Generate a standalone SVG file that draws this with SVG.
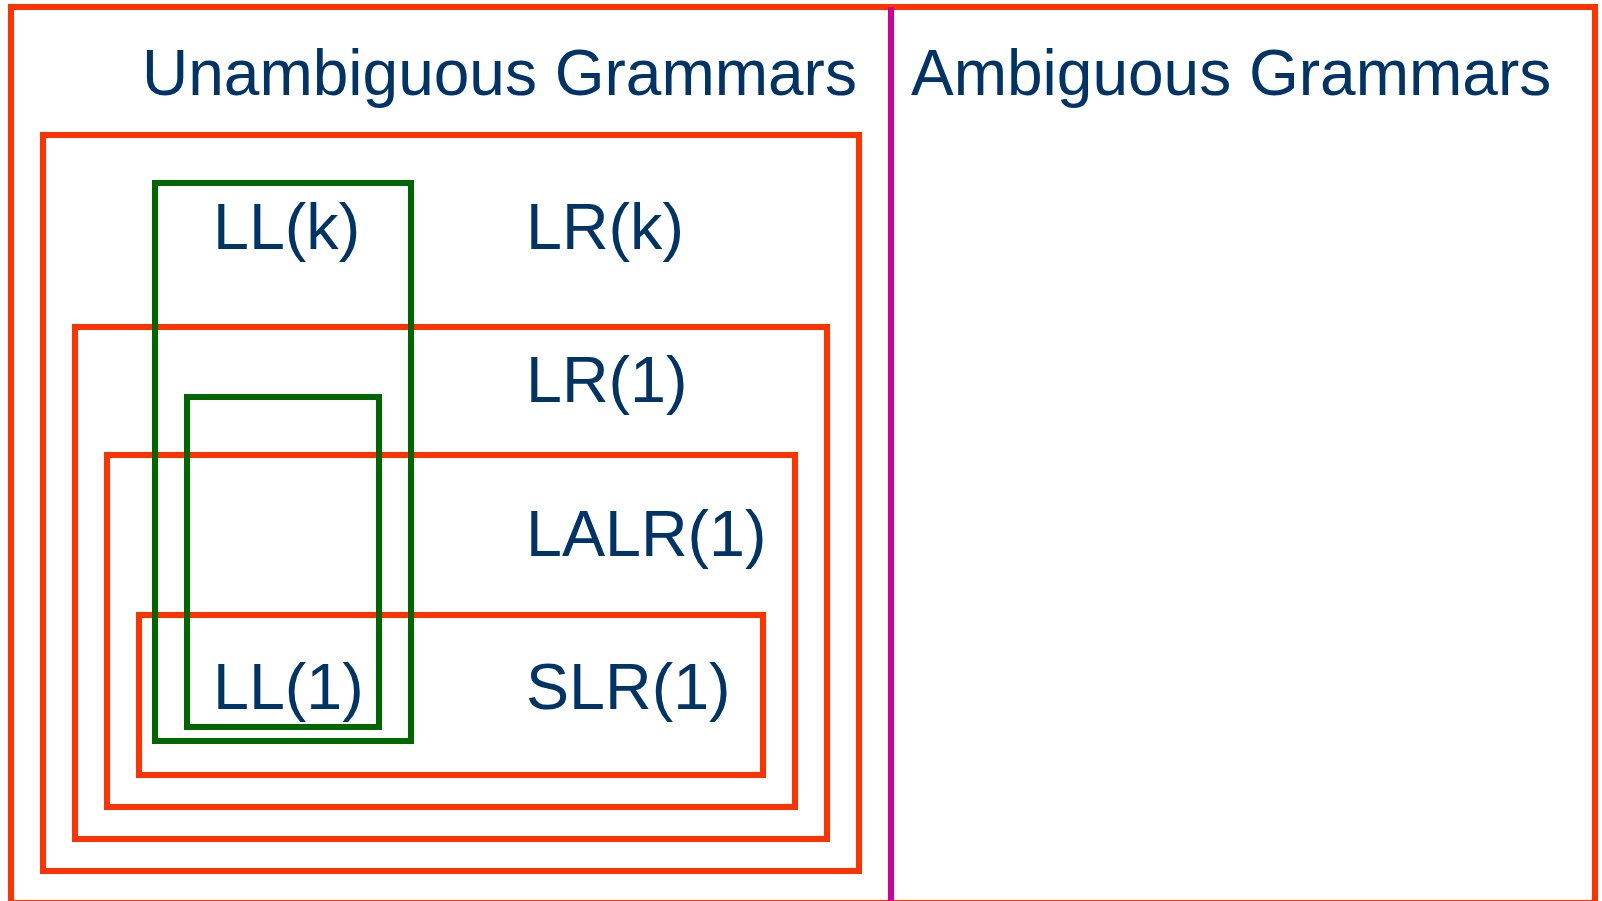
<svg xmlns="http://www.w3.org/2000/svg" width="1602" height="901" viewBox="0 0 1602 901">
  <style>
    .set { fill: none; stroke: #FF3300; stroke-width: 6; }
    .ll { fill: none; stroke: #006600; stroke-width: 6; }
    .divider { stroke: #CC0099; stroke-width: 6; }
    .title { font-family: "Liberation Sans", Arial, sans-serif; font-size: 64px; fill: #003366; }
    .label { font-family: "Liberation Sans", Arial, sans-serif; font-size: 64.6px; fill: #003366; }
  </style>
  <rect width="1602" height="901" fill="#FFFFFF"/>

  <!-- universe of all grammars -->
  <g id="all-grammars">
    <rect class="set" x="11" y="7" width="1584" height="896"/>
  </g>

  <!-- split between unambiguous and ambiguous grammars -->
  <g id="split">
    <line class="divider" x1="891" y1="7" x2="891" y2="905"/>
  </g>

  <g id="unambiguous">
    <text class="title" x="142" y="95">Unambiguous Grammars</text>
  </g>
  <g id="ambiguous">
    <text class="title" x="911" y="95">Ambiguous Grammars</text>
  </g>

  <!-- LR family, nested -->
  <g id="lrk">
    <rect class="set" x="43" y="135" width="816" height="736"/>
    <text class="label" x="526" y="249">LR(k)</text>
  </g>
  <g id="lr1">
    <rect class="set" x="75" y="327" width="752" height="512"/>
    <text class="label" x="526" y="402">LR(1)</text>
  </g>
  <g id="lalr1">
    <rect class="set" x="107" y="455" width="688" height="352"/>
    <text class="label" x="526" y="556">LALR(1)</text>
  </g>
  <g id="slr1">
    <rect class="set" x="139" y="615" width="624" height="160"/>
    <text class="label" x="526" y="709">SLR(1)</text>
  </g>

  <!-- LL family -->
  <g id="llk">
    <rect class="ll" x="155" y="183" width="256" height="558"/>
    <text class="label" x="213" y="249">LL(k)</text>
  </g>
  <g id="ll1">
    <rect class="ll" x="187" y="397" width="192" height="330"/>
    <text class="label" x="213" y="709">LL(1)</text>
  </g>

  <g id="connectors"/>
</svg>
